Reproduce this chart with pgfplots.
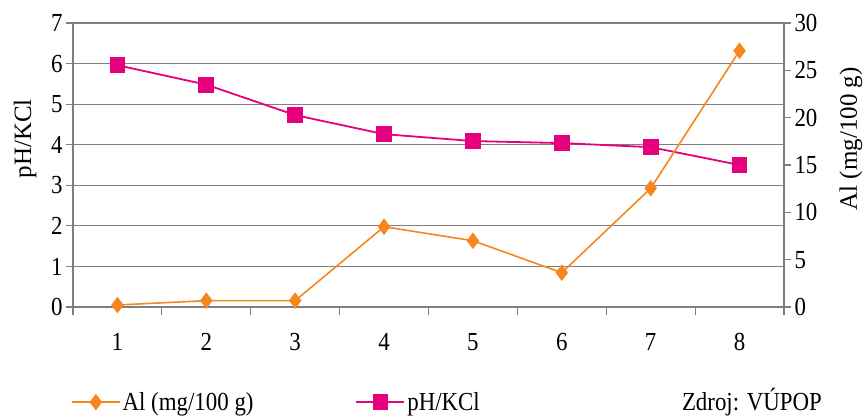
\documentclass[border=0pt]{standalone}
\usepackage{fontspec}
\setmainfont[FakeStretch=0.88]{Liberation Serif}
\newfontfamily\labelfont{Liberation Serif}
\usepackage{pgfplots}
\pgfplotsset{compat=1.18}
\definecolor{alor}{HTML}{F7861F}
\definecolor{phpk}{HTML}{E6007E}
\definecolor{gridg}{HTML}{7F7F7F}
\newcommand{\bigf}{\fontsize{26}{28}\selectfont}
\begin{document}
\begin{tikzpicture}
\path[use as bounding box] (-73pt,-110pt) rectangle (794pt,307pt);
\begin{axis}[
  at={(0,0)}, anchor=south west, scale only axis,
  width=711pt, height=284pt,
  xmin=0.5, xmax=8.5, ymin=0, ymax=7,
  axis y line*=left, axis x line*=bottom,
  axis line style={-, gridg, line width=1.2pt},
  tick align=outside,
  xtick={1,...,8},
  minor xtick={0.5,1.5,...,8.5},
  every major x tick/.style={draw=none},
  minor tick length=8pt, major tick length=7pt,
  tick style={gridg, line width=1.2pt},
  ytick={0,...,7},
  ymajorgrids, major grid style={gridg, line width=1.2pt},
  /pgf/number format/assume math mode=true,
  ticklabel style={font=\bigf},
  xticklabel style={yshift=-16pt},
  ylabel={\labelfont\fontsize{25}{27}\selectfont pH/KCl},
  ylabel style={at={(axis description cs:-0.0675,0.592)}, anchor=center},
  clip=false,
]
\addplot[color=phpk, line width=1.8pt, mark=square*, mark size=7pt,
  mark options={solid, fill=phpk}]
  coordinates {(1,5.96)(2,5.48)(3,4.73)(4,4.26)(5,4.09)(6,4.04)(7,3.94)(8,3.50)};
\end{axis}
\begin{axis}[
  at={(0,0)}, anchor=south west, scale only axis,
  width=711pt, height=284pt,
  xmin=0.5, xmax=8.5, ymin=0, ymax=30,
  axis y line*=right, axis x line=none,
  axis line style={-, gridg, line width=1.2pt},
  tick align=outside, major tick length=7pt,
  tick style={gridg, line width=1.2pt},
  ytick={0,5,...,30},
  /pgf/number format/assume math mode=true,
  ticklabel style={font=\bigf},
  ylabel={\labelfont\fontsize{25}{27}\selectfont Al (mg/100 g)},
  ylabel style={at={(axis description cs:1.094,0.592)}, anchor=center, rotate=0},
  clip=false,
  legend image code/.code={\draw[mark repeat=2, mark phase=2] plot coordinates {(0pt,0pt) (24pt,0pt) (48pt,0pt)};},
  legend style={at={(axis description cs:-0.003,-0.335)}, anchor=west, draw=none, fill=none,
    legend columns=2, font=\bigf, inner sep=0pt,
    /tikz/every even column/.append style={column sep=100pt}},
]
\addplot[color=alor, line width=1.6pt, mark=diamond*, mark size=7pt,
  mark options={solid, fill=alor}]
  coordinates {(1,0.21)(2,0.67)(3,0.67)(4,8.48)(5,7.0)(6,3.62)(7,12.54)(8,27.07)};
\addlegendentry{Al (mg/100 g)}
\addlegendimage{color=phpk, line width=1.8pt, mark=square*, mark size=7pt, mark options={solid, fill=phpk}}
\addlegendentry{pH/KCl}
\node[anchor=east, font=\bigf, inner sep=0pt] at (axis description cs:1.0535,-0.335) {Zdroj: VÚPOP};
\end{axis}
\end{tikzpicture}
\end{document}
